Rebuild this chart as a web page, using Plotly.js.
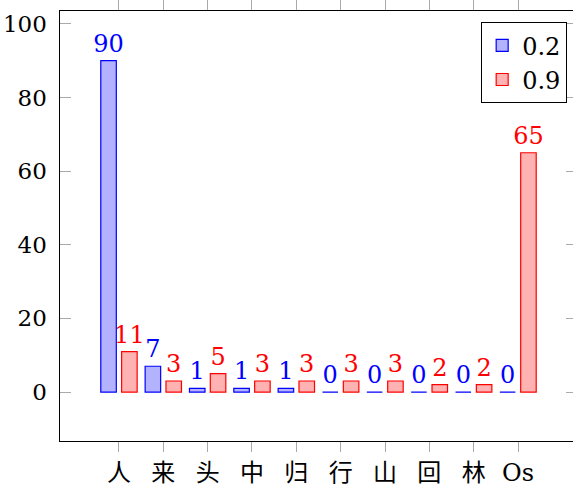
<!DOCTYPE html>
<html>
<head>
<meta charset="utf-8">
<script src="https://cdn.plot.ly/plotly-3.0.1.min.js"></script>
<style>html,body{margin:0;padding:0;overflow:hidden;background:#fff;}</style>
</head>
<body>
<div id="chart"></div>
<script>
const categories = ['人', '来', '头', '中', '归', '行', '山', '回', '林', 'Os'];
const series02 = [90, 7, 1, 1, 1, 0, 0, 0, 0, 0];
const series09 = [11, 3, 5, 3, 3, 3, 3, 2, 2, 65];
const seriesNames = ['0.2', '0.9'];
const yTicks = [0, 20, 40, 60, 80, 100];

const FONT = "DejaVu Serif, Noto Sans CJK SC";

const traces = [
  {
    type: 'bar', name: seriesNames[0], x: categories, y: series02,
    offset: -0.41, width: 0.35,
    marker: {color: 'rgba(0,0,255,0.3)', line: {color: '#0000ff', width: 1.2}},
    text: series02.map(String), textposition: 'outside', cliponaxis: false,
    constraintext: 'none', textangle: 0,
    textfont: {family: FONT, size: 24, color: '#0000ff'}
  },
  {
    type: 'bar', name: seriesNames[1], x: categories, y: series09,
    offset: 0.06, width: 0.35,
    marker: {color: 'rgba(255,0,0,0.3)', line: {color: '#ff0000', width: 1.2}},
    text: series09.map(String), textposition: 'outside', cliponaxis: false,
    constraintext: 'none', textangle: 0,
    textfont: {family: FONT, size: 24, color: '#ff0000'}
  }
];

const layout = {
  width: 580, height: 490,
  margin: {l: 60, r: 3, t: 11, b: 49},
  paper_bgcolor: '#fff', plot_bgcolor: '#fff',
  font: {family: FONT, size: 24, color: '#000'},
  barmode: 'overlay',
  showlegend: true,
  legend: {
    x: 0.981, y: 0.974, xanchor: 'right', yanchor: 'top',
    bordercolor: '#000', borderwidth: 1, bgcolor: '#fff',
    font: {family: FONT, size: 24, color: '#000'},
    traceorder: 'normal', itemwidth: 30, tracegroupgap: 0
  },
  xaxis: {
    type: 'category', range: [-1.33, 10.33],
    showline: true, linecolor: '#000', linewidth: 1, mirror: 'ticks',
    ticks: 'outside', ticklen: 10, tickcolor: '#aaaaaa', tickwidth: 1,
    showgrid: false, zeroline: false,
    tickfont: {family: FONT, size: 24, color: '#000'}
  },
  yaxis: {
    range: [-13.3, 103.5],
    tickvals: yTicks, ticktext: yTicks.map(v => v + '\u2004'),
    showline: true, linecolor: '#000', linewidth: 1, mirror: 'ticks',
    ticks: 'inside', ticklen: 11, tickcolor: '#aaaaaa', tickwidth: 1,
    showgrid: false, zeroline: false,
    tickfont: {family: FONT, size: 23, color: '#000'}
  }
};

Plotly.newPlot('chart', traces, layout, {displayModeBar: false, staticPlot: true});
</script>
</body>
</html>
